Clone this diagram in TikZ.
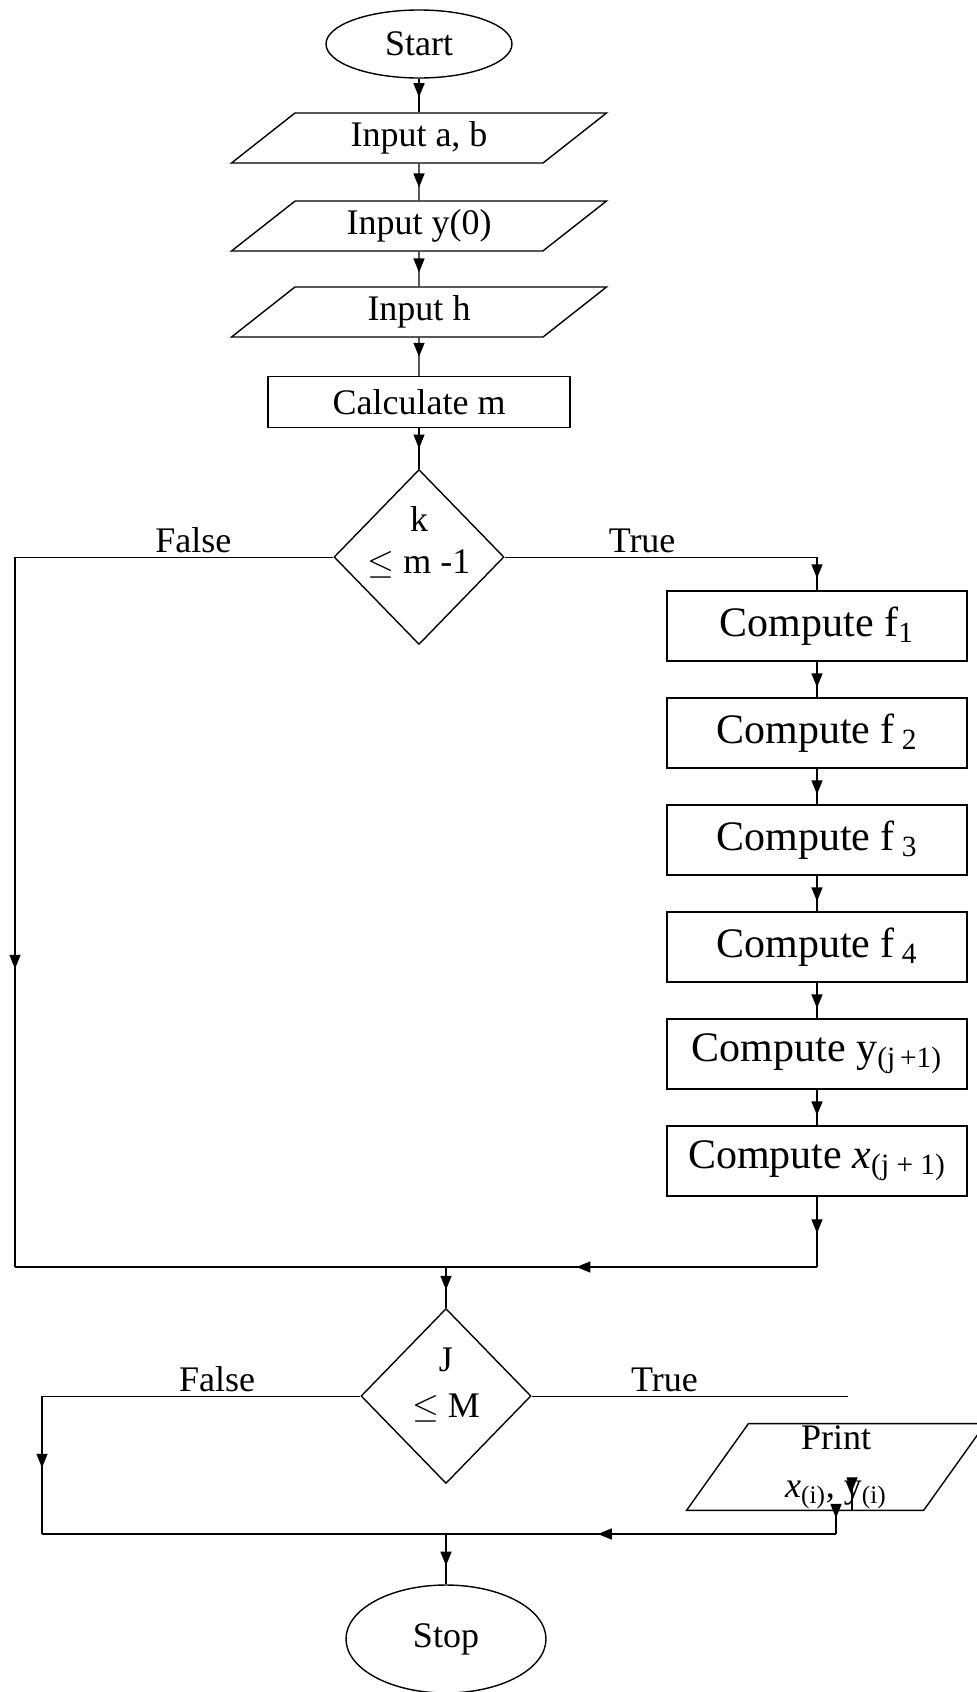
\documentclass[tikz,border=0pt]{standalone}
\usepackage{fontspec}
\setmainfont{Liberation Serif}
\usetikzlibrary{shapes.geometric,arrows.meta,decorations.markings}

\begin{document}
\begin{tikzpicture}[x=0.5pt, y=-0.5pt]

\def \topx {419}
\def \cx {817}
\def \pitch {107}

\tikzset{flow/.style={draw, line width=0.7pt, postaction={decorate},
    decoration={markings, mark=at position #1 with {\arrow{Triangle[length=7pt,width=5.5pt]}}}},
  flow/.default=0.6}
\tikzstyle{every node}=[font=\fontsize{18}{21}\selectfont]
\tikzstyle{terminal}=[ellipse, draw, line width=0.7pt, minimum width=93pt, minimum height=34pt, inner sep=0pt]
\tikzstyle{io}=[trapezium, draw, line width=0.7pt, trapezium left angle=30, trapezium right angle=150,
  trapezium stretches body, minimum width=187.5pt, minimum height=25pt, inner sep=1pt]
\tikzstyle{process}=[rectangle, draw, line width=0.7pt, minimum width=150pt, minimum height=35pt,
  inner sep=0pt, font=\fontsize{21}{24}\selectfont]
\tikzstyle{decision}=[diamond, draw, line width=0.7pt, minimum width=85pt, minimum height=87.5pt, inner sep=0pt]
\tikzstyle{branch}=[above, inner sep=2pt]

\useasboundingbox (0,0) rectangle (976,1692);

% Input column
\node (start) at (\topx, 44) [terminal] {Start};
\node (inab) at (\topx, 138) [io] {Input a, b};
\node (iny) at (\topx, 226) [io] {Input y(0)};
\node (inh) at (\topx, 312) [io] {Input h};
\node (calc) at (\topx, 402) [process, minimum width=151pt, minimum height=25.5pt, font=\fontsize{18}{21}\selectfont] {Calculate m};

\draw [flow=0.55] (start) -- (inab);
\draw [flow=0.65] (inab) -- (iny);
\draw [flow] (iny) -- (inh);
\draw [flow=0.5] (inh) -- (calc);

% First test
\node (test1) at (\topx, 557) [decision] {};
\node (test1txt) at (\topx, 542) [align=center] {k\\$\leq$ m -1};
\draw [flow=0.5] (calc) -- (test1);

% Compute boxes
\foreach \s/\txt in {1/{Compute f\textsubscript{1}}, 2/{Compute f\,\textsubscript{2}},
    3/{Compute f\,\textsubscript{3}}, 4/{Compute f\,\textsubscript{4}},
    5/{Compute y\textsubscript{(j\,+1)}}, 6/{Compute \textit{x}\textsubscript{(j + 1)}}} {
  \node (comp\s) at (\cx, {626 + (\s - 1)*\pitch}) [process] {\txt};
}

% Join boxes together
\foreach \s in {2,...,6} {
  \pgfmathtruncatemacro{\prev}{\s - 1}
  \draw [flow=0.72] (comp\prev) -- (comp\s);
}

% Branches of first test
\coordinate (fl1) at (15, 557);
\coordinate (tr1) at (\cx, 557);
\coordinate (jn1) at (15, 1267);
\coordinate (rt1) at (\cx, 1267);
\coordinate (mg1) at (446, 1267);

\draw (test1.west) -- node[branch, pos=0.44] (false1) {False} (fl1);
\draw [flow=0.58] (fl1) -- (jn1);
\draw (test1.east) -- node[branch, pos=0.44] (true1) {True} (tr1);
\draw [flow=0.64] (tr1) -- (comp1);
\draw [flow=0.52] (comp6) -- (rt1);
\draw [flow=0.3] (rt1) -- (jn1);

% Second test
\node (test2) at (446, 1396) [decision] {};
\node (test2txt) at (446, 1385) [align=center, font=\fontsize{18}{23}\selectfont] {J\\$\leq$ M};
\draw [flow=0.56] (mg1) -- (test2);

\node (print) at (836, 1467) [io, trapezium left angle=54.5, trapezium right angle=125.5,
  minimum width=149.5pt, minimum height=42pt, align=center, font=\fontsize{18}{24}\selectfont]
  {Print\\\textit{x}\textsubscript{(i)}, y\textsubscript{(i)}};

\coordinate (fl2) at (42, 1396);
\coordinate (tr2) at (848, 1396);
\coordinate (jn2) at (42, 1534);
\coordinate (pr1) at (print.south |- jn2);
\coordinate (mg2) at (446, 1534);
\coordinate (prs) at (852, 1478);

\draw (test2.west) -- node[branch, pos=0.45] (false2) {False} (fl2);
\draw [flow=0.52] (fl2) -- (jn2);
\draw (test2.east) -- node[branch, pos=0.42] (true2) {True} (tr2);
\draw [flow=0.4] (prs) -- (prs |- print.south);
\draw [flow=0.3] (print.south) -- (pr1);
\draw [flow=0.3] (pr1) -- (jn2);

% End
\node (stop) at (446, 1639) [terminal, minimum width=100pt, minimum height=54pt] {Stop};
\draw [flow=0.63] (mg2) -- (stop);

\end{tikzpicture}
\end{document}
